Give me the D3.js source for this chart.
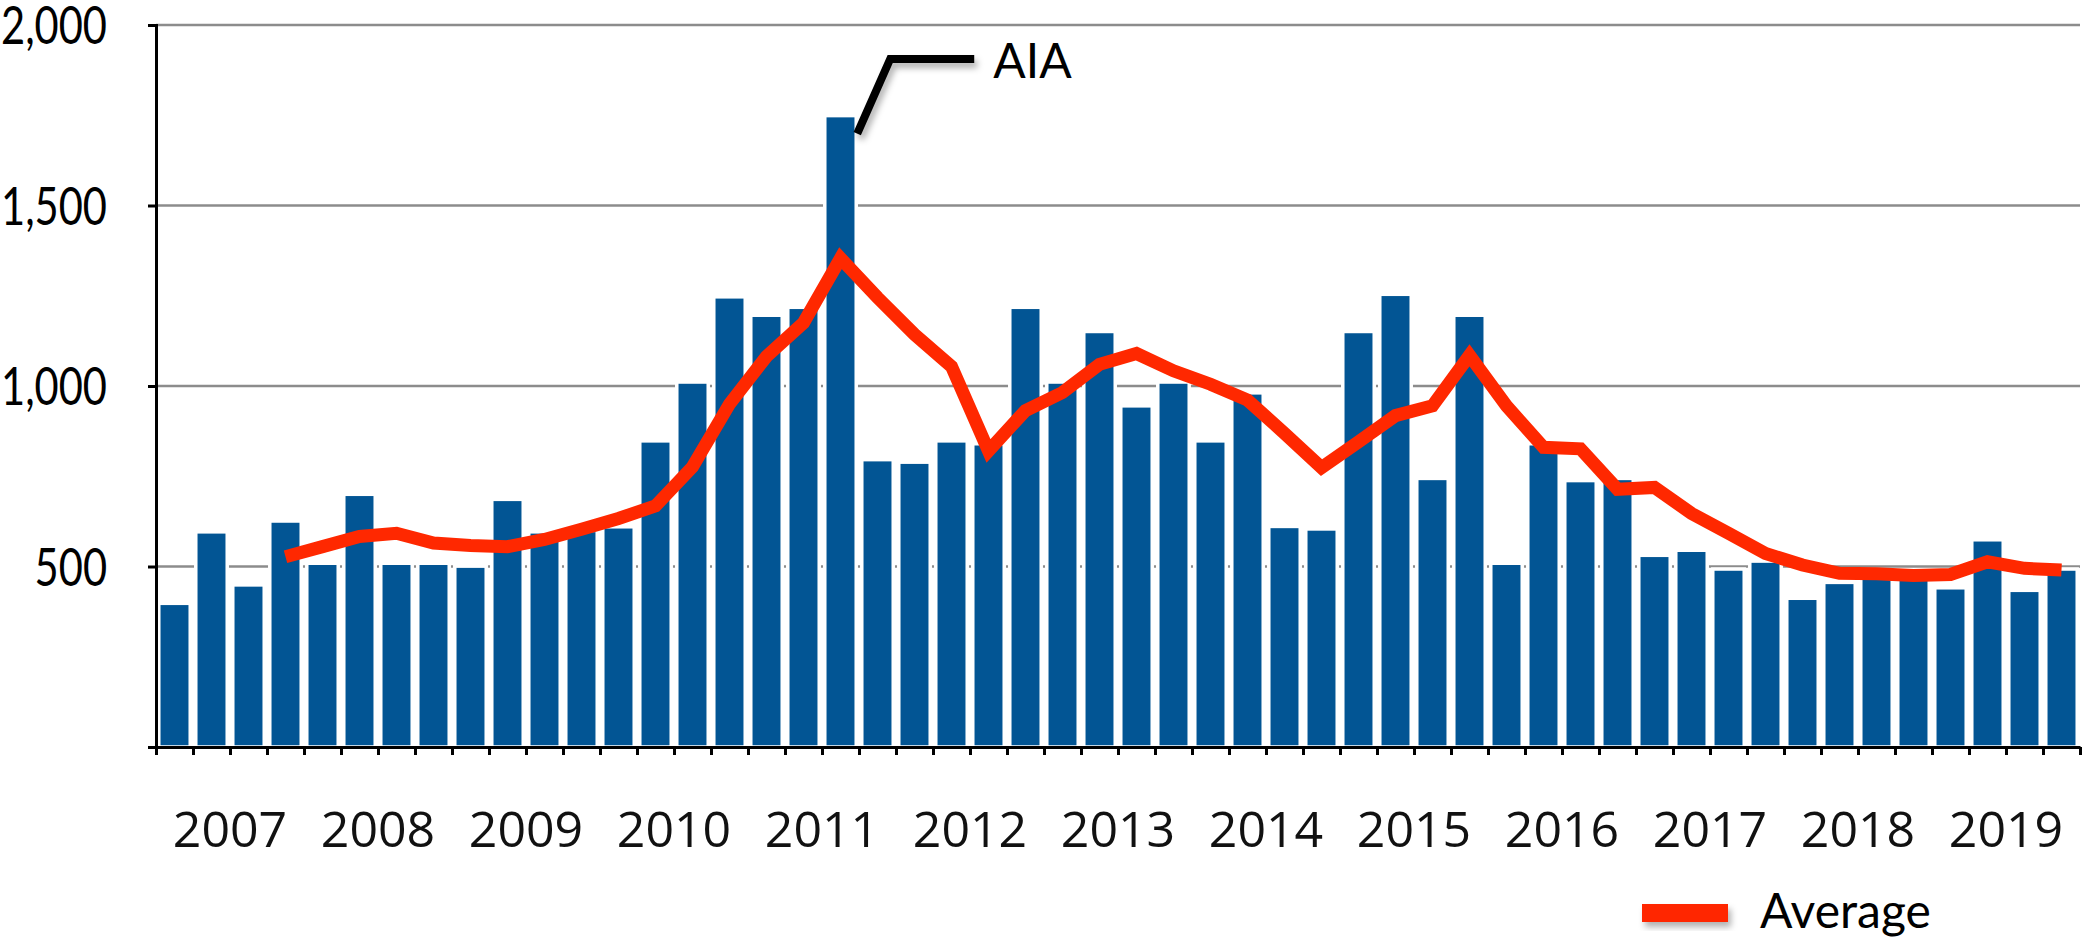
<!DOCTYPE html>
<html>
<head>
<meta charset="utf-8">
<script src="https://cdn.jsdelivr.net/npm/d3@7"></script>
<style>
  body { margin: 0; background: #fff; }
  svg { display: block; }
</style>
</head>
<body>
<svg id="chart" width="2088" height="937"></svg>
<script>
// quarterly values, 2007 Q1 .. 2019 Q4
var years = ["2007","2008","2009","2010","2011","2012","2013","2014","2015","2016","2017","2018","2019"];
var quarters = [
  398, 596, 449, 626,
  509, 700, 509, 509,
  501, 686, 596, 600,
  610, 848, 1011, 1247,
  1196, 1218, 1749, 796,
  789, 848, 840, 1218,
  1011, 1151, 945, 1011,
  848, 981, 611, 604,
  1151, 1254, 744, 1196,
  509, 840, 738, 744,
  531, 545, 493, 515,
  412, 456, 478, 482,
  441, 574, 434, 493
];
// average line (starts at 2007 Q4)
var average = [
  null, null, null, 527,
  555, 583, 592, 565,
  558, 555, 575, 603,
  633, 668, 776, 950,
  1082, 1175, 1354, 1245,
  1143, 1054, 820, 932,
  982, 1060, 1090, 1042,
  1005, 961, 869, 774,
  845, 918, 945, 1085,
  945, 830, 826, 714,
  719, 647, 592, 536,
  504, 481, 480, 475,
  478, 513, 495, 490
];
var yTicks = [0, 500, 1000, 1500, 2000];
var peakLabel = "AIA";
var legendLabel = "Average";

var svg = d3.select("#chart");
// note: "top" is taken by window.top, so the edges get other names
var plotL = 156, plotR = 2080, plotT = 25, plotB = 747;
var idx = d3.range(quarters.length);

var x = d3.scaleBand().domain(idx).range([plotL, plotR]).paddingInner(0.15).paddingOuter(0.075);
var xq = d3.scaleLinear().domain([0, quarters.length]).range([plotL, plotR]);
var xy = d3.scaleBand().domain(years).range([plotL, plotR]);
var y = d3.scaleLinear().domain([0, 2000]).range([plotB, plotT]);

var defs = svg.append("defs");
defs.append("filter").attr("id", "shadow")
  .attr("x", "-20%").attr("y", "-50%").attr("width", "140%").attr("height", "200%")
  .append("feDropShadow")
  .attr("dx", 3).attr("dy", 5).attr("stdDeviation", 3)
  .attr("flood-color", "#000").attr("flood-opacity", 0.3);

// gridlines
svg.append("g")
  .selectAll("line")
  .data(yTicks.filter(function (d) { return d > 0; }))
  .join("line")
  .attr("x1", plotL).attr("x2", plotR)
  .attr("y1", function (d) { return y(d); })
  .attr("y2", function (d) { return y(d); })
  .attr("stroke", "#8c8c8c")
  .attr("stroke-width", 2.5);

// bars
svg.append("g")
  .selectAll("rect")
  .data(quarters)
  .join("rect")
  .attr("x", function (d, i) { return x(i); })
  .attr("y", function (d) { return y(d); })
  .attr("width", x.bandwidth())
  .attr("height", function (d) { return plotB - y(d); })
  .attr("fill", "#025594")
  .attr("stroke", "#fff")
  .attr("stroke-width", 3.5);

// axes
var yAxis = svg.append("g")
  .attr("transform", "translate(" + plotL + ",0)")
  .call(d3.axisLeft(y).tickValues(yTicks).tickSize(8).tickPadding(41)
    .tickFormat(function (d) { return d === 0 ? "" : d3.format(",")(d); }));
yAxis.select(".domain").attr("stroke-width", 3);
yAxis.selectAll(".tick line").attr("stroke-width", 3);
yAxis.selectAll("text")
  .attr("font-family", "Lato, sans-serif")
  .attr("font-size", 52)
  .attr("dy", "0.36em")
  .attr("fill", "#000")
  .each(function () {
    // squeeze the labels, the original face is a narrow one
    var w = this.getComputedTextLength();
    if (w > 0) d3.select(this).attr("textLength", w * 0.8).attr("lengthAdjust", "spacingAndGlyphs");
  });

var xAxis = svg.append("g")
  .attr("transform", "translate(0," + plotB + ")")
  .call(d3.axisBottom(xq).tickValues(d3.range(quarters.length + 1)).tickSize(8).tickSizeOuter(0).tickFormat(""));
xAxis.select(".domain").attr("stroke-width", 3);
xAxis.selectAll(".tick line").attr("stroke-width", 3);

var yearAxis = svg.append("g")
  .attr("transform", "translate(0," + plotB + ")")
  .call(d3.axisBottom(xy).tickSize(0));
yearAxis.select(".domain").remove();
yearAxis.selectAll("text")
  .attr("y", 100).attr("dy", 0)
  .attr("font-family", "'Open Sans', sans-serif")
  .attr("font-size", 50)
  .attr("fill", "#111");

// average line
var line = d3.line()
  .defined(function (d) { return d != null; })
  .x(function (d, i) { return x(i) + x.bandwidth() / 2; })
  .y(function (d) { return y(d); });

svg.append("path")
  .datum(average)
  .attr("fill", "none")
  .attr("stroke", "#ff2800")
  .attr("stroke-width", 13)
  .attr("stroke-linejoin", "miter")
  .attr("d", line);

// peak annotation
var peak = d3.maxIndex(quarters);
var sx = x(peak) + x.bandwidth() + 1;
var sy = y(quarters[peak]) + 18;
var ky = y(2000) + 34;
svg.append("path")
  .attr("d", "M" + sx + "," + sy + "L" + (sx + 33) + "," + ky + "L" + (sx + 117) + "," + ky)
  .attr("fill", "none")
  .attr("stroke", "#000")
  .attr("stroke-width", 8)
  .attr("filter", "url(#shadow)");
svg.append("text")
  .attr("x", sx + 136)
  .attr("y", ky + 19)
  .attr("font-family", "Lato, sans-serif")
  .attr("font-size", 48)
  .text(peakLabel);

// legend
svg.append("rect")
  .attr("x", 1642).attr("y", 904)
  .attr("width", 86).attr("height", 18)
  .attr("fill", "#ff2800")
  .attr("filter", "url(#shadow)");
svg.append("text")
  .attr("x", 1760).attr("y", 928)
  .attr("font-family", "Lato, sans-serif")
  .attr("font-size", 48)
  .text(legendLabel);
</script>
</body>
</html>
